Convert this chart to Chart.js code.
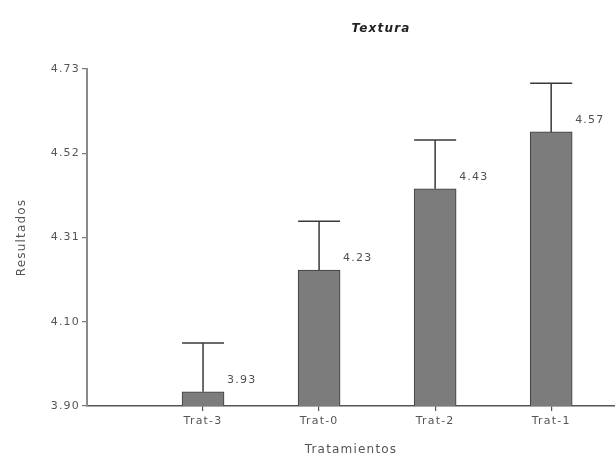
<!DOCTYPE html>
<html>
<head>
<meta charset="utf-8">
<script src="https://cdn.jsdelivr.net/npm/chart.js@4.4.1/dist/chart.umd.min.js"></script>
<style>
  html, body { margin: 0; padding: 0; background: #fff; }
  #wrap { width: 615px; height: 457px; }
</style>
</head>
<body>
<div id="wrap"><canvas id="texturaChart"></canvas></div>
<script>
// Chart data
const chartTitle = 'Textura';
const categories = ['Trat-3', 'Trat-0', 'Trat-2', 'Trat-1'];
const means = [3.93, 4.23, 4.43, 4.57];
const errors = [0.12, 0.12, 0.12, 0.12];
const yTickValues = [3.895, 4.1025, 4.31, 4.5175, 4.725];
const yTickLabels = ['3.90', '4.10', '4.31', '4.52', '4.73'];

const textFont = 'DejaVu Sans, Arial, sans-serif';

// Letter spacing to mimic the wide text of the original
const spacingPlugin = {
  id: 'spacing',
  beforeUpdate(chart) { chart.ctx.letterSpacing = '1.2px'; },
  beforeDraw(chart) { chart.ctx.letterSpacing = '1.2px'; }
};

// Title sits right of centre in the original, so draw it here
const titlePlugin = {
  id: 'offsetTitle',
  afterDraw(chart) {
    const ctx = chart.ctx;
    ctx.save();
    ctx.fillStyle = '#222';
    ctx.font = 'italic bold 12px ' + textFont;
    ctx.textAlign = 'center';
    ctx.textBaseline = 'middle';
    ctx.fillText(chartTitle, 381, 29);
    ctx.restore();
  }
};

// Error bars and value labels
const errorBarPlugin = {
  id: 'errorBars',
  afterDatasetsDraw(chart) {
    const ctx = chart.ctx;
    const yScale = chart.scales.y;
    const meta = chart.getDatasetMeta(0);
    ctx.save();
    meta.data.forEach((bar, i) => {
      const half = bar.width / 2;
      const top = yScale.getPixelForValue(means[i] + errors[i]);
      ctx.strokeStyle = '#3a3a3a';
      ctx.lineWidth = 1.5;
      ctx.beginPath();
      ctx.moveTo(bar.x, bar.y);
      ctx.lineTo(bar.x, top);
      ctx.moveTo(bar.x - half, top);
      ctx.lineTo(bar.x + half, top);
      ctx.stroke();

      ctx.fillStyle = '#505050';
      ctx.font = '11px ' + textFont;
      ctx.textAlign = 'left';
      ctx.textBaseline = 'middle';
      ctx.fillText(means[i].toFixed(2), bar.x + half + 3, bar.y - 12);
    });
    ctx.restore();
  }
};

const ctx = document.getElementById('texturaChart').getContext('2d');
new Chart(ctx, {
  type: 'bar',
  data: {
    datasets: [{
      data: categories.map((c, i) => ({ x: i + 1, y: means[i] })),
      backgroundColor: '#7c7c7c',
      borderColor: '#3c3c3c',
      borderWidth: 1,
      borderSkipped: 'bottom',
      barThickness: 42
    }]
  },
  options: {
    responsive: true,
    maintainAspectRatio: false,
    animation: false,
    layout: { padding: { top: 69, right: 0, bottom: 0, left: 0 } },
    plugins: {
      legend: { display: false },
      tooltip: { enabled: false },
      title: { display: false }
    },
    scales: {
      x: {
        type: 'linear',
        min: 0,
        max: 4.55,
        offset: false,
        afterBuildTicks: scale => { scale.ticks = categories.map((c, i) => ({ value: i + 1 })); },
        afterFit: scale => { scale.height = 51; },
        ticks: {
          color: '#555',
          font: { family: textFont, size: 11 },
          padding: 4,
          maxRotation: 0,
          callback: value => categories[value - 1]
        },
        grid: { display: true, offset: false, drawOnChartArea: false, drawTicks: true, tickLength: 5, color: '#555', lineWidth: 1.2 },
        border: { display: true, color: '#555', width: 1.5 },
        title: {
          display: true,
          text: 'Tratamientos',
          color: '#555',
          font: { family: textFont, size: 12 },
          padding: { top: 0, bottom: 0 }
        }
      },
      y: {
        min: 3.895,
        max: 4.725,
        afterBuildTicks: scale => { scale.ticks = yTickValues.map(v => ({ value: v })); },
        afterFit: scale => { scale.width = 87; },
        ticks: {
          color: '#555',
          font: { family: textFont, size: 11 },
          padding: 2,
          callback: (value, index) => yTickLabels[index]
        },
        grid: { display: true, drawOnChartArea: false, drawTicks: true, tickLength: 5, color: '#777', lineWidth: 1.2 },
        border: { display: true, color: '#8a8a8a', width: 2 },
        title: {
          display: true,
          text: 'Resultados',
          color: '#555',
          font: { family: textFont, size: 12 },
          padding: { top: 15, bottom: 0 }
        }
      }
    }
  },
  plugins: [spacingPlugin, titlePlugin, errorBarPlugin]
});
</script>
</body>
</html>
